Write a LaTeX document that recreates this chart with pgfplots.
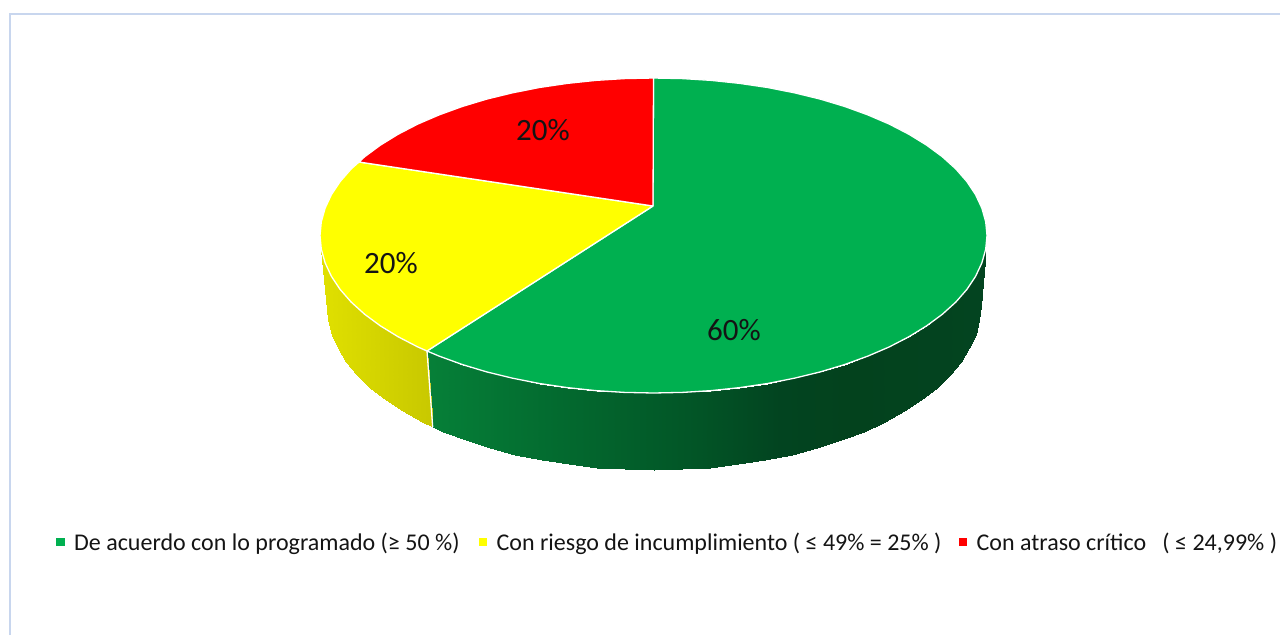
\documentclass[border=0pt]{standalone}
\usepackage{pgfplots}
\pgfplotsset{compat=1.18}
\usepackage{fontspec}
\setmainfont{Carlito}
\definecolor{verde}{RGB}{0,176,80}
\definecolor{amarillo}{RGB}{255,255,0}
\definecolor{rojo}{RGB}{255,0,0}
\definecolor{marco}{RGB}{200,214,238}
\definecolor{texto}{RGB}{20,20,20}
\pgfplotsset{
  colormap={ladoverde}{rgb255(0pt)=(6,128,56) rgb255(133pt)=(3,106,47) rgb255(273pt)=(2,84,38) rgb255(353pt)=(2,68,32) rgb255(423pt)=(3,66,29) rgb255(559pt)=(3,68,32)},
  colormap={ladoamarillo}{rgb255(0pt)=(224,224,0) rgb255(111pt)=(200,200,0)},
}
\begin{document}
\begin{tikzpicture}
\path[use as bounding box] (0,0) rectangle (1280pt,635pt);
\begin{axis}[
  at={(0,0)}, anchor=south west,
  scale only axis, width=1280pt, height=635pt,
  xmin=0, xmax=1280, ymin=0, ymax=635, y dir=reverse,
  hide axis, clip=false,
  legend style={at={(axis cs:56,542)}, anchor=west, draw=none, fill=none, inner sep=0pt,
    font=\fontsize{24}{28}\selectfont\color{texto}, legend columns=3,
    /tikz/every odd column/.style={column sep=7.5pt},
    /tikz/column 2/.style={column sep=17pt},
    /tikz/column 4/.style={column sep=15pt}},
  legend cell align=left,
  legend image code/.code={\fill[#1,draw=none] (0pt,-4pt) rectangle (8.5pt,4pt);},
]
% marco
\addplot[marco, line width=2pt, forget plot] coordinates {(10,635) (10,13.5) (1280,13.5)};
% lados
\addplot[surf, shader=interp, mesh/cols=2, mesh/check=false, point meta=x, point meta rel=per plot, colormap name=ladoverde, forget plot] coordinates {
(985.7,249.2)(980.5,306)
(985.7,249.2)(979.3,320.3)
(981.9,262.8)(975.5,334.5)
(975.6,276.3)(969.4,348.4)
(966.9,289.4)(960.8,362.1)
(955.8,302.1)(949.9,375.3)
(942.3,314.3)(936.7,388)
(926.7,325.8)(921.4,400.1)
(909,336.7)(904,411.4)
(889.3,346.9)(884.7,422)
(867.9,356.1)(863.7,431.6)
(844.8,364.5)(841.1,440.3)
(820.3,371.9)(817,448)
(794.4,378.2)(791.7,454.6)
(767.6,383.5)(765.3,460.1)
(739.8,387.6)(738.1,464.4)
(711.4,390.6)(710.3,467.5)
(682.6,392.4)(682,469.4)
(653.5,393)(653.5,470)
(624.4,392.4)(625,469.4)
(595.6,390.6)(596.7,467.5)
(567.2,387.6)(568.9,464.4)
(539.4,383.5)(541.7,460.1)
(512.6,378.2)(515.3,454.6)
(486.7,371.9)(490,448)
(462.2,364.5)(465.9,440.3)
(439.1,356.1)(443.3,431.6)
(427,351)(432.7,427)
};
\addplot[surf, shader=interp, mesh/cols=2, mesh/check=false, point meta=x, point meta rel=per plot, colormap name=ladoamarillo, forget plot] coordinates {
(427,351)(432.7,427)
(417.7,346.9)(422.3,422)
(398,336.7)(403,411.4)
(380.3,325.8)(385.6,400.1)
(364.7,314.3)(370.3,388)
(351.2,302.1)(357.1,375.3)
(340.1,289.4)(346.2,362.1)
(331.4,276.3)(337.6,348.4)
(325.1,262.8)(331.5,334.5)
(321.3,249.2)(327.7,320.3)
(321.3,249.2)(326.5,306)
};
\addplot[white, line width=1.3pt, forget plot] coordinates {(427,351) (432.7,427)};
% sectores
\addplot[fill=verde, draw=white, line width=1.3pt, line join=round] coordinates {
(653,206)(653.5,78)(682.6,78.6)(711.4,80.4)(739.8,83.4)(767.6,87.5)(794.4,92.8)(820.3,99.1)(844.8,106.5)(867.9,114.9)(889.3,124.1)(909,134.3)(926.7,145.2)(942.3,156.7)(955.8,168.9)(966.9,181.6)(975.6,194.7)(981.9,208.2)(985.7,221.8)(987,235.5)(985.7,249.2)(981.9,262.8)(975.6,276.3)(966.9,289.4)(955.8,302.1)(942.3,314.3)(926.7,325.8)(909,336.7)(889.3,346.9)(867.9,356.1)(844.8,364.5)(820.3,371.9)(794.4,378.2)(767.6,383.5)(739.8,387.6)(711.4,390.6)(682.6,392.4)(653.5,393)(624.4,392.4)(595.6,390.6)(567.2,387.6)(539.4,383.5)(512.6,378.2)(486.7,371.9)(462.2,364.5)(439.1,356.1)(427,351)(653,206)
};
\addlegendentry{De acuerdo con lo programado (≥ 50 \%)}
\addplot[fill=amarillo, draw=white, line width=1.3pt, line join=round] coordinates {
(653,206)(427,351)(417.7,346.9)(398,336.7)(380.3,325.8)(364.7,314.3)(351.2,302.1)(340.1,289.4)(331.4,276.3)(325.1,262.8)(321.3,249.2)(320,235.5)(321.3,221.8)(325.1,208.2)(331.4,194.7)(340.1,181.6)(351.2,168.9)(359,162)(653,206)
};
\addlegendentry{Con riesgo de incumplimiento ( ≤ 49\% = 25\% )}
\addplot[fill=rojo, draw=white, line width=1.3pt, line join=round] coordinates {
(653,206)(359,162)(364.7,156.7)(380.3,145.2)(398,134.3)(417.7,124.1)(439.1,114.9)(462.2,106.5)(486.7,99.1)(512.6,92.8)(539.4,87.5)(567.2,83.4)(595.6,80.4)(624.4,78.6)(653.5,78)(653,206)
};
\addlegendentry{Con atraso crítico \ \ ( ≤ 24,99\% )}
% etiquetas
\node[font=\fontsize{31}{36}\selectfont, text=texto] at (axis cs:734,330) {60\%};
\node[font=\fontsize{31}{36}\selectfont, text=texto] at (axis cs:391,263) {20\%};
\node[font=\fontsize{31}{36}\selectfont, text=texto] at (axis cs:543,130) {20\%};
\end{axis}
\end{tikzpicture}
\end{document}
